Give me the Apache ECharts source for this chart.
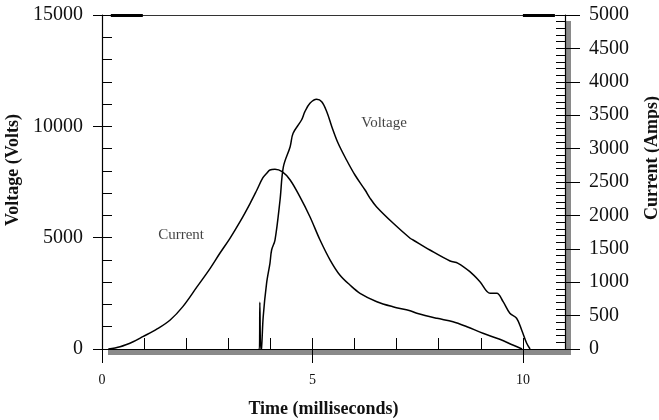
<!DOCTYPE html>
<html><head><meta charset="utf-8">
<script src="https://cdn.jsdelivr.net/npm/echarts@6/dist/echarts.min.js"></script>
<style>html,body{margin:0;padding:0;background:#fff}#c{width:659px;height:420px}</style>
</head><body><div id="c"></div>
<script>
// Current (Amps) vs time (ms)
const currentTime = [0.15, 0.43, 0.74, 0.97, 1.31, 1.62, 1.92, 2.26, 2.57, 2.80, 3.04, 3.28, 3.52, 3.68, 3.82, 3.92, 3.99, 4.11, 4.28, 4.47, 4.70, 4.94, 5.18, 5.42, 5.65, 5.89, 6.13, 6.53, 6.91, 7.32, 7.48, 7.96, 8.34, 8.67, 9.05, 9.45, 9.76, 9.98];
const currentAmps = [0, 34, 109, 184, 300, 434, 634, 933, 1208, 1433, 1657, 1906, 2181, 2380, 2560, 2635, 2680, 2690, 2654, 2530, 2280, 1980, 1632, 1332, 1108, 958, 834, 708, 633, 573, 534, 459, 409, 334, 235, 145, 60, 0];
// Voltage (Volts) vs time (ms)
const voltageTime = [3.72, 3.74, 3.75, 3.77, 3.79, 3.83, 3.91, 3.99, 4.03, 4.11, 4.23, 4.31, 4.47, 4.54, 4.74, 4.82, 4.94, 5.10, 5.22, 5.34, 5.46, 5.61, 5.81, 6.01, 6.25, 6.37, 6.52, 6.92, 7.32, 7.39, 7.79, 8.27, 8.46, 8.74, 8.98, 9.22, 9.38, 9.53, 9.69, 9.85, 9.97, 10.09, 10.17];
const voltageVolts = [0, 0, 2100, 0, 30, 1451, 2951, 3849, 4446, 4895, 6692, 8187, 9085, 9687, 10284, 10657, 11034, 11214, 11106, 10657, 9983, 9238, 8488, 7814, 7140, 6768, 6391, 5645, 4972, 4895, 4446, 3952, 3849, 3472, 3023, 2502, 2502, 2124, 1603, 1379, 853, 256, 0];
// Tick labels
const timeTicks = [0, 5, 10];
const voltageTicks = [0, 5000, 10000, 15000];
const currentTicks = [0, 500, 1000, 1500, 2000, 2500, 3000, 3500, 4000, 4500, 5000];
// In-plot annotations (time, volts)
const annotationNames = ['Voltage', 'Current'];
const annotationTime = [6.70, 1.88];
const annotationVolts = [10150, 5120];
// Top frame accents (time ranges at the top edge)
const topAccents = [[0.21, 0.97], [10.0, 10.76]];

const SERIF = '"Liberation Serif", "Times New Roman", serif';
const INK = '#111';
const plain = v => String(v);

const chart = echarts.init(document.getElementById('c'), null, {renderer: 'canvas'});

const pair = (xs, ys) => xs.map((x, i) => [x, ys[i]]);

const option = {
  animation: false,
  backgroundColor: '#fff',
  grid: {
    left: 102, top: 15, right: 94, bottom: 71,
    containLabel: false, outerBoundsMode: 'none',
    show: true, backgroundColor: '#fff', borderWidth: 0, borderColor: 'transparent',
    shadowColor: '#8a8a8a', shadowBlur: 0, shadowOffsetX: 6, shadowOffsetY: 6
  },
  xAxis: [
    { type: 'value', min: 0, max: 11, interval: 1, position: 'bottom',
      axisLine: { onZero: false, lineStyle: { color: '#000', width: 1.2 } },
      axisTick: { inside: true, length: 11, lineStyle: { color: '#000' } },
      axisLabel: { show: false }, splitLine: { show: false } },
    { type: 'value', min: 0, max: 11, interval: 5, position: 'bottom',
      axisLine: { show: false, onZero: false },
      axisTick: { inside: false, length: 14, customValues: timeTicks, lineStyle: { color: '#000' } },
      axisLabel: { customValues: timeTicks, formatter: plain, margin: 24, fontFamily: SERIF, fontSize: 14, color: INK },
      splitLine: { show: false },
      name: 'Time (milliseconds)', nameLocation: 'middle', nameGap: 51,
      nameTextStyle: { fontFamily: SERIF, fontWeight: 'bold', fontSize: 18, color: INK, padding: [0, 20, 0, 0] } },
    { type: 'value', min: 0, max: 11, position: 'top',
      axisLine: { show: true, onZero: false, lineStyle: { color: '#333', width: 1 } },
      axisTick: { show: false }, axisLabel: { show: false }, splitLine: { show: false } }
  ],
  yAxis: [
    { type: 'value', min: 0, max: 15000, interval: 1000, position: 'left',
      axisLine: { show: true, onZero: false, lineStyle: { color: '#000', width: 1.2 } },
      axisTick: { show: true, inside: true, length: 10, lineStyle: { color: '#000' } },
      axisLabel: { show: false }, splitLine: { show: false } },
    { type: 'value', min: 0, max: 5000, interval: 100, position: 'right',
      axisLine: { show: true, onZero: false, lineStyle: { color: '#000', width: 1.2 } },
      axisTick: { show: true, inside: true, length: 9, lineStyle: { color: '#000' } },
      axisLabel: { show: false }, splitLine: { show: false } },
    { type: 'value', min: 0, max: 15000, interval: 5000, position: 'left',
      axisLine: { show: false, onZero: false },
      axisTick: { show: true, inside: false, length: 9, customValues: voltageTicks, lineStyle: { color: '#000' } },
      axisLabel: { customValues: voltageTicks, formatter: plain, margin: 19, fontFamily: SERIF, fontSize: 20, color: INK },
      splitLine: { show: false },
      name: 'Voltage (Volts)', nameLocation: 'middle', nameGap: 77, nameRotate: 90,
      nameTextStyle: { fontFamily: SERIF, fontWeight: 'bold', fontSize: 18, color: INK, padding: [0, 0, 0, 24] } },
    { type: 'value', min: 0, max: 5000, interval: 500, position: 'right',
      axisLine: { show: false, onZero: false },
      axisTick: { show: true, inside: false, length: 15, customValues: currentTicks, lineStyle: { color: '#000' } },
      axisLabel: { customValues: currentTicks, formatter: plain, margin: 24, fontFamily: SERIF, fontSize: 20, color: INK },
      splitLine: { show: false },
      name: 'Current (Amps)', nameLocation: 'middle', nameGap: 78, nameRotate: 90,
      nameTextStyle: { fontFamily: SERIF, fontWeight: 'bold', fontSize: 18, color: INK, padding: [0, 0, 0, 48] } }
  ],
  series: [
    { name: 'Voltage', type: 'line', xAxisIndex: 0, yAxisIndex: 0,
      data: pair(voltageTime, voltageVolts), showSymbol: false, smooth: 0.35,
      lineStyle: { color: '#000', width: 1.5 },
      markLine: { silent: true, symbol: 'none', label: { show: false },
        lineStyle: { color: '#000', width: 3, type: 'solid' },
        data: topAccents.map(r => [{ coord: [r[0], 15000] }, { coord: [r[1], 15000] }]) } },
    { name: 'Current', type: 'line', xAxisIndex: 0, yAxisIndex: 1,
      data: pair(currentTime, currentAmps), showSymbol: false, smooth: 0.35,
      lineStyle: { color: '#000', width: 1.5 } },
    { name: 'labels', type: 'scatter', xAxisIndex: 0, yAxisIndex: 0, symbolSize: 0, silent: true,
      data: annotationNames.map((n, i) => ({ name: n, value: [annotationTime[i], annotationVolts[i]] })),
      label: { show: true, position: 'inside', formatter: p => p.name, fontFamily: SERIF, fontSize: 15, color: INK } }
  ]
};
chart.setOption(option);
</script>
</body></html>
